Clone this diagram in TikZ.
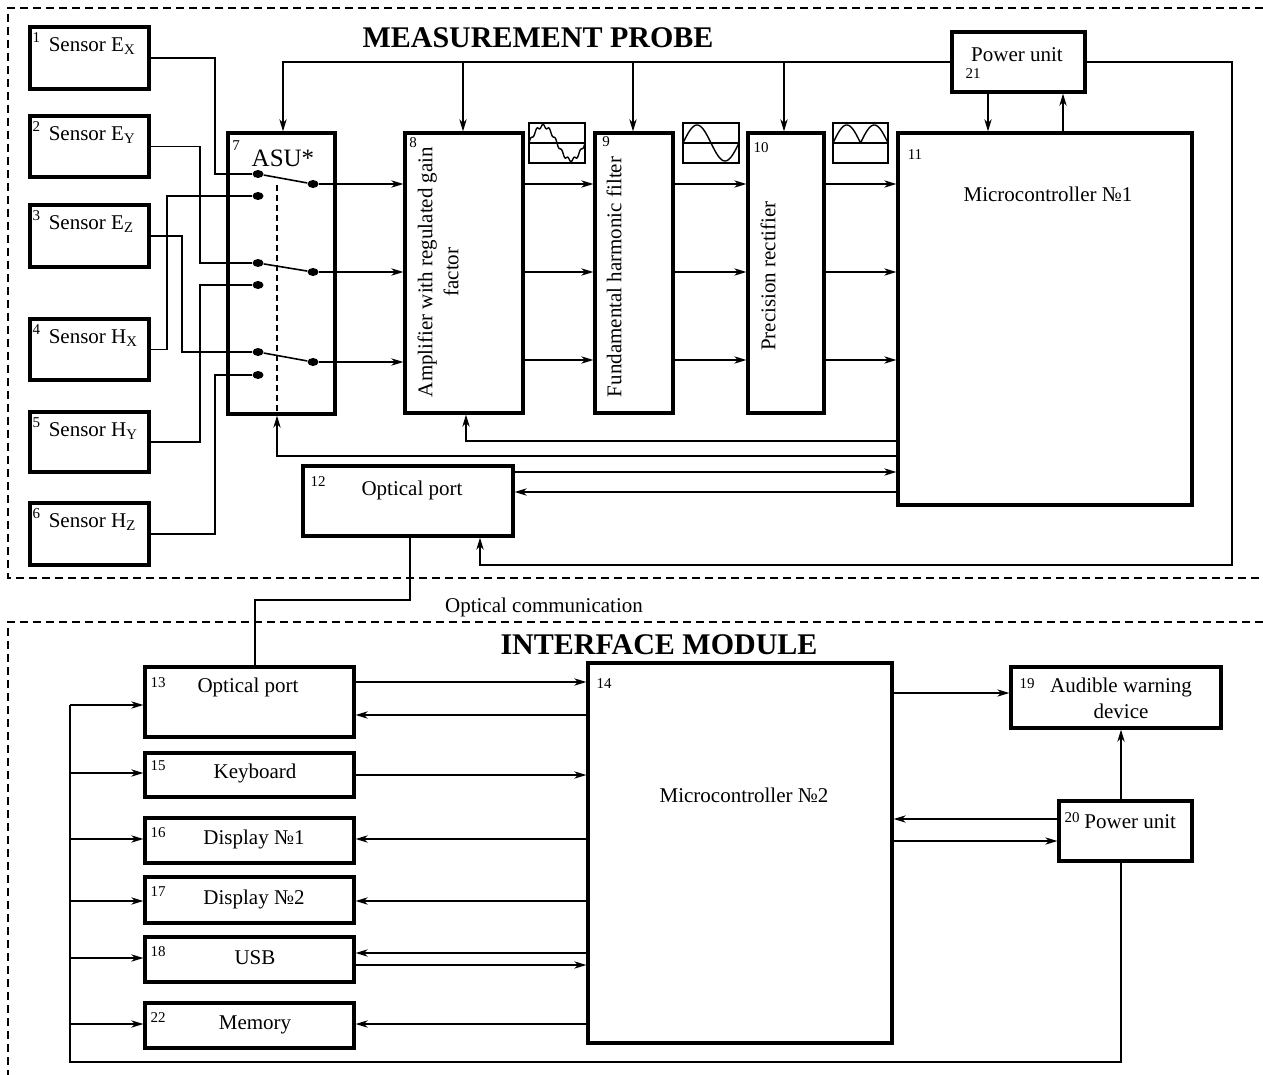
\documentclass[tikz,border=0pt]{standalone}
\usepackage{fontspec}
\setmainfont{Liberation Serif}
\usetikzlibrary{arrows.meta, calc, fit, shapes.geometric}

\begin{document}
\begin{tikzpicture}[x=0.5pt, y=-0.5pt]
  \tikzset{
    block/.style={draw, line width=1.6pt, inner sep=0pt},
    icon/.style={draw, line width=0.8pt, inner sep=0pt},
    txt/.style={inner sep=0pt, font=\fontsize{10.5}{13}\selectfont},
    num/.style={inner sep=0pt, font=\fontsize{7.5}{8}\selectfont},
    title/.style={inner sep=0pt, font=\fontsize{15}{17}\selectfont\bfseries},
    wire/.style={line width=0.8pt},
    arr/.style={wire, -{Stealth[length=6pt, width=3.6pt, inset=1.8pt]}},
    contact/.style={ellipse, fill, inner sep=0pt, minimum width=5.5pt, minimum height=4pt},
    frame/.style={line width=0.8pt, dash pattern=on 4pt off 2.5pt},
    link/.style={line width=0.7pt, dash pattern=on 3pt off 2pt}
  }
  \useasboundingbox (0,0) rectangle (1263,1075);

  % Frames and titles
  \draw[frame] (1263,8) -- (8,8) -- (8,578) -- (1263,578);
  \draw[frame] (1263,622) -- (8,622) -- (8,1075);
  \node[title] (probe) at (538,38) {MEASUREMENT PROBE};
  \node[title] (iface) at (659,645) {INTERFACE MODULE};
  \node[txt] (optcom) at (544,607) {Optical communication};

  % Sensors
  \foreach \i/\f/\c/\ya/\yb in {1/E/X/27/89, 2/E/Y/116/177, 3/E/Z/205/267,
                                4/H/X/319/380, 5/H/Y/412/472, 6/H/Z/503/565} {
    \node[block, fit={(30,\ya) (149,\yb)}] (s\i) {};
    \node[txt, anchor=west] (s\i-t) at ($(s\i.north west)+(20,21)$) {Sensor \f\textsubscript{\c}};
    \node[num] (s\i-n) at ($(s\i.north west)+(8,12)$) {\i};
  }

  % ASU with contacts
  \node[block, fit={(228,133) (335,414)}] (asu) {};
  \node[num] (asu-n) at (236,146) {7};
  \node[txt, font=\fontsize{12.5}{14}\selectfont] (asu-t) at (283,158) {ASU*};
  \foreach \k/\y in {1/174, 2/196, 3/263, 4/285, 5/352, 6/375}
    \node[contact] (c\k) at (258,\y) {};
  \foreach \k/\y in {1/184, 2/272, 3/362}
    \node[contact] (r\k) at (313,\y) {};
  \draw[wire] (c1) -- (r1);
  \draw[wire] (c3) -- (r2);
  \draw[wire] (c5) -- (r3);
  \draw[link] (277,185) -- (asu.south -| 277,0);

  % Sensor wiring
  \draw[wire] (s1.east) -| (215,0 |- c1) -- (c1);
  \draw[wire] (s2.east) -| (200,0 |- c3) -- (c3);
  \draw[wire] (s3.east) -| (182,0 |- c5) -- (c5);
  \draw[wire] (s4.east) -| (167,0 |- c2) -- (c2);
  \draw[wire] (s5.east) -| (200,0 |- c4) -- (c4);
  \draw[wire] (s6.east) -| (215,0 |- c6) -- (c6);

  % Signal chain
  \node[block, fit={(405,133) (523,413)}] (amp) {};
  \node[num] (amp-n) at (413,143) {8};
  \node[txt, rotate=90, align=center] (amp-t) at (438,272) {Amplifier with regulated gain\\factor};
  \node[block, fit={(595,133) (673,413)}] (fil) {};
  \node[num] (fil-n) at (606,142) {9};
  \node[txt, rotate=90] (fil-t) at (614,277) {Fundamental harmonic filter};
  \node[block, fit={(748,133) (824,413)}] (rec) {};
  \node[num] (rec-n) at (761,148) {10};
  \node[txt, rotate=90] (rec-t) at (768,276) {Precision rectifier};
  \node[block, fit={(898,133) (1192,505)}] (mc1) {};
  \node[num] (mc1-n) at (915,155) {11};
  \node[txt] (mc1-t) at (1048,194) {Microcontroller №1};

  \foreach \k in {1,2,3}
    \draw[arr] (r\k) -- (amp.west |- r\k);
  \foreach \y in {184,272,360} {
    \draw[arr] (amp.east |- 0,\y) -- (fil.west |- 0,\y);
    \draw[arr] (fil.east |- 0,\y) -- (rec.west |- 0,\y);
    \draw[arr] (rec.east |- 0,\y) -- (mc1.west |- 0,\y);
  }

  % Waveform icons
  \node[icon, fit={(529,123) (585,163)}] (w1) {};
  \node[icon, fit={(683,123) (739,163)}] (w2) {};
  \node[icon, fit={(833,123) (888,163)}] (w3) {};
  \foreach \w in {w1,w2,w3}
    \draw[line width=0.7pt] (\w.west) -- (\w.east);
  \draw[line width=0.7pt] plot[domain=0:360, samples=120]
    ({529+\x/360*56}, {143-17*(sin(\x)+0.1*sin(9*\x))});
  \draw[line width=0.7pt] plot[domain=0:360, samples=80]
    ({683+\x/360*56}, {143-18*sin(\x)});
  \draw[line width=0.7pt] plot[domain=0:360, samples=80]
    ({833+\x/360*55}, {143-18*abs(sin(\x))});

  % Power unit of the probe
  \node[block, fit={(952,32) (1085,92)}] (pu1) {};
  \node[txt] (pu1-t) at (1017,55) {Power unit};
  \node[num] (pu1-n) at (973,74) {21};
  \draw[arr] (pu1.west) -| (asu.north -| 283,0);
  \foreach \b/\x in {amp/463, fil/633, rec/784}
    \draw[arr] (\x,0 |- pu1.west) -- (\b.north -| \x,0);
  \draw[arr] (988,0 |- pu1.south) -- (988,0 |- mc1.north);
  \draw[arr] (1063,0 |- mc1.north) -- (1063,0 |- pu1.south);

  % Optical port of the probe
  \node[block, fit={(303,466) (513,536)}] (op1) {};
  \node[num] (op1-n) at (318,482) {12};
  \node[txt] (op1-t) at (412,490) {Optical port};
  \draw[arr] (mc1.west |- 0,441) -| (amp.south -| 466,0);
  \draw[arr] (mc1.west |- 0,456) -| (asu.south -| 277,0);
  \draw[arr] (op1.east |- 0,472) -- (mc1.west |- 0,472);
  \draw[arr] (mc1.west |- 0,492) -- (op1.east |- 0,492);
  \draw[arr] (pu1.east) -| (1232,565) -| (op1.south -| 480,0);

  % Interface module
  \node[block, fit={(145,667) (354,737)}] (op2) {};
  \node[num] (op2-n) at (158,683) {13};
  \node[txt] (op2-t) at (248,687) {Optical port};
  \node[block, fit={(145,753) (354,797)}] (kbd) {};
  \node[num] (kbd-n) at (158,766) {15};
  \node[txt] (kbd-t) at (255,773) {Keyboard};
  \node[block, fit={(145,818) (354,863)}] (dsp1) {};
  \node[num] (dsp1-n) at (158,833) {16};
  \node[txt] (dsp1-t) at (254,839) {Display №1};
  \node[block, fit={(145,877) (354,923)}] (dsp2) {};
  \node[num] (dsp2-n) at (158,892) {17};
  \node[txt] (dsp2-t) at (254,899) {Display №2};
  \node[block, fit={(145,937) (354,982)}] (usb) {};
  \node[num] (usb-n) at (158,952) {18};
  \node[txt] (usb-t) at (255,958) {USB};
  \node[block, fit={(145,1003) (354,1048)}] (mem) {};
  \node[num] (mem-n) at (158,1018) {22};
  \node[txt] (mem-t) at (255,1025) {Memory};
  \node[block, fit={(588,663) (892,1043)}] (mc2) {};
  \node[num] (mc2-n) at (604,684) {14};
  \node[txt] (mc2-t) at (744,795) {Microcontroller №2};
  \node[block, fit={(1011,667) (1221,728)}] (awd) {};
  \node[num] (awd-n) at (1027,684) {19};
  \node[txt, align=center] (awd-t) at (1121,698) {Audible warning\\device};
  \node[block, fit={(1059,801) (1192,861)}] (pu2) {};
  \node[num] (pu2-n) at (1072,818) {20};
  \node[txt, anchor=west] (pu2-t) at (1084,822) {Power unit};

  % Optical link
  \draw[wire] (410,0 |- op1.south) |- (255,600) -- (255,0 |- op2.north);

  % Data lines
  \draw[arr] (op2.east |- 0,682) -- (mc2.west |- 0,682);
  \draw[arr] (mc2.west |- 0,715) -- (op2.east |- 0,715);
  \draw[arr] (kbd.east |- 0,775) -- (mc2.west |- 0,775);
  \draw[arr] (mc2.west |- 0,839) -- (dsp1.east |- 0,839);
  \draw[arr] (mc2.west |- 0,901) -- (dsp2.east |- 0,901);
  \draw[arr] (mc2.west |- 0,953) -- (usb.east |- 0,953);
  \draw[arr] (usb.east |- 0,965) -- (mc2.west |- 0,965);
  \draw[arr] (mc2.west |- 0,1024) -- (mem.east |- 0,1024);
  \draw[arr] (mc2.east |- 0,693) -- (awd.west |- 0,693);
  \draw[arr] (pu2.west |- 0,819) -- (mc2.east |- 0,819);
  \draw[arr] (mc2.east |- 0,841) -- (pu2.west |- 0,841);
  \draw[arr] (1121,0 |- pu2.north) -- (1121,0 |- awd.south);

  % Power bus
  \draw[wire] (1121,0 |- pu2.south) |- (70,1062) -- (70,705);
  \foreach \b/\y in {op2/705, kbd/773, dsp1/839, dsp2/901, usb/958, mem/1024}
    \draw[arr] (70,\y) -- (\b.west |- 0,\y);

\end{tikzpicture}
\end{document}
